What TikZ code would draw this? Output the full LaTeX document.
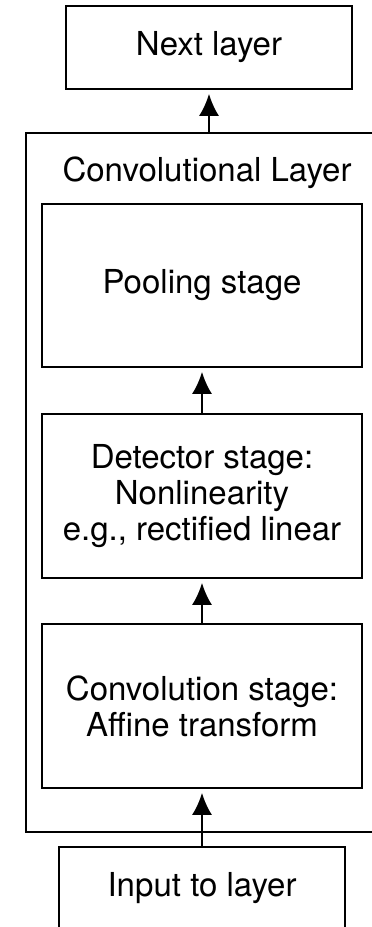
\documentclass[tikz,border=0pt]{standalone}
\usepackage{fontspec}
\setmainfont{TeX Gyre Heros}
\usepackage{tikz}
\usetikzlibrary{arrows.meta,calc,positioning}
\tikzset{%
	layerbox/.style = {draw, rectangle, line width=1.6pt, minimum width=286pt, minimum height=83pt, text centered},
	stagebox/.style = {draw, rectangle, line width=1.6pt, minimum width=320pt, minimum height=164pt, align=center},
	uparrow/.style  = {line width=2.2pt, -{Latex[length=22pt,width=20pt]}, shorten >=4pt},
}

\begin{document}
\begin{tikzpicture}[x=1pt,y=-1pt,font=\fontsize{33}{36}\selectfont]
	\useasboundingbox (0,0) rectangle (372,927);
	\node[draw, rectangle, line width=1.6pt, minimum width=349pt, minimum height=699pt] (convlayer) at (200.5,482.5) {};
	\node (convtitle) at (207,173) {Convolutional Layer};
	
	\node[layerbox] (nextlayer) at (209,47.5) {Next layer};
	\node[stagebox, minimum height=163pt] (pooling) at (202,285.5) {Pooling stage};
	\node[stagebox] (detector) at (202,496) {Detector stage:\\Nonlinearity\\e.g., rectified linear};
	\node[stagebox] (convolution) at (202,706) {Convolution stage:\\Affine transform};
	\node[layerbox] (input) at (202,888.5) {Input to layer};
	
	\coordinate (outtop) at (convlayer.north -| nextlayer.south);
	\draw[uparrow] (outtop) -- (nextlayer.south);
	\draw[uparrow] (detector.north) -- (pooling.south);
	\draw[uparrow] (convolution.north) -- (detector.south);
	\draw[uparrow] (input.north) -- (convolution.south);
	
\end{tikzpicture}
\end{document}
